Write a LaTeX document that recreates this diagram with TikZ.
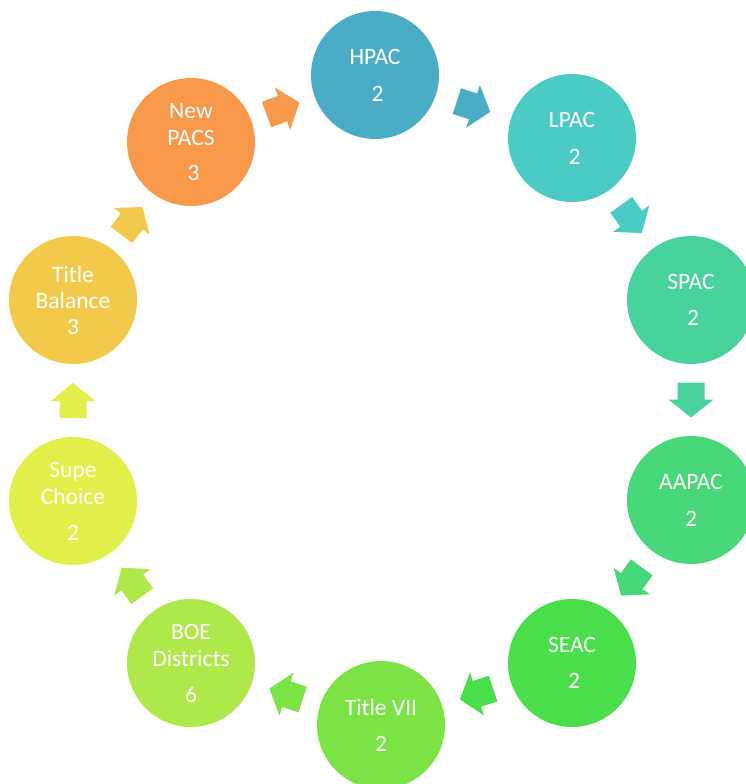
\documentclass[tikz,border=0pt]{standalone}
\usepackage{fontspec}
\setmainfont{Carlito}
\usetikzlibrary{calc}
\definecolor{cA}{HTML}{4BACC6}
\definecolor{cB}{HTML}{4BCBC3}
\definecolor{cC}{HTML}{48D29C}
\definecolor{cD}{HTML}{48D779}
\definecolor{cE}{HTML}{4ADE4B}
\definecolor{cF}{HTML}{7BE346}
\definecolor{cG}{HTML}{AEE84A}
\definecolor{cH}{HTML}{E2EE4A}
\definecolor{cI}{HTML}{F2C94A}
\definecolor{cJ}{HTML}{F7984A}
\tikzset{
  stage/.style={circle, minimum size=128pt, inner sep=0pt, draw=none,
    text=white, align=center, font=\fontsize{23.5}{27}\selectfont},
}
\newcommand\blockarrow[3]{%
  \pgfmathanglebetweenpoints{\pgfpointanchor{#1}{center}}{\pgfpointanchor{#2}{center}}%
  \let\arrang\pgfmathresult
  \fill[#3, shift={($(#1)!0.5!(#2)$)}, rotate=\arrang]
    (-17.5,-13.5) -- (-0.5,-13.5) -- (-0.5,-22.5) -- (17.5,0)
    -- (-0.5,22.5) -- (-0.5,13.5) -- (-17.5,13.5) -- cycle;
}
\begin{document}
\begin{tikzpicture}[x=1pt,y=-1pt]
\useasboundingbox (0,0) rectangle (745,784);
\node[stage, fill=cA] (hpac)  at (375,75)  {HPAC\\[10pt]\hspace*{5pt}2};
\node[stage, fill=cB] (lpac)  at (572,138) {LPAC\\[10pt]\hspace*{5pt}2};
\node[stage, fill=cC] (spac)  at (691,300) {SPAC\\[9pt]\hspace*{4pt}2};
\node[stage, fill=cD] (aapac) at (691,500) {AAPAC\\[10pt]2};
\node[stage, fill=cE] (seac)  at (572,663) {SEAC\\[9pt]\hspace*{4pt}2};
\node[stage, fill=cF] (t7)    at (381,725) {Title VII\\[9pt]2};
\node[stage, fill=cG] (boe)   at (191,663) {BOE\\Districts\\[9pt]6};
\node[stage, fill=cH] (supe)  at (73,501)  {Supe\\Choice\\[9pt]2};
\node[stage, fill=cI] (tbal)  at (73,300)  {Title\\[-1pt]Balance\\[-1pt]3};
\node[stage, fill=cJ] (newp)  at (191,142) {New\\PACS\\[8pt]\hspace*{5pt}3};
\blockarrow{hpac}{lpac}{cA}
\blockarrow{lpac}{spac}{cB}
\blockarrow{spac}{aapac}{cC}
\blockarrow{aapac}{seac}{cD}
\blockarrow{seac}{t7}{cE}
\blockarrow{t7}{boe}{cF}
\blockarrow{boe}{supe}{cG}
\blockarrow{supe}{tbal}{cH}
\blockarrow{tbal}{newp}{cI}
\blockarrow{newp}{hpac}{cJ}
\end{tikzpicture}
\end{document}
